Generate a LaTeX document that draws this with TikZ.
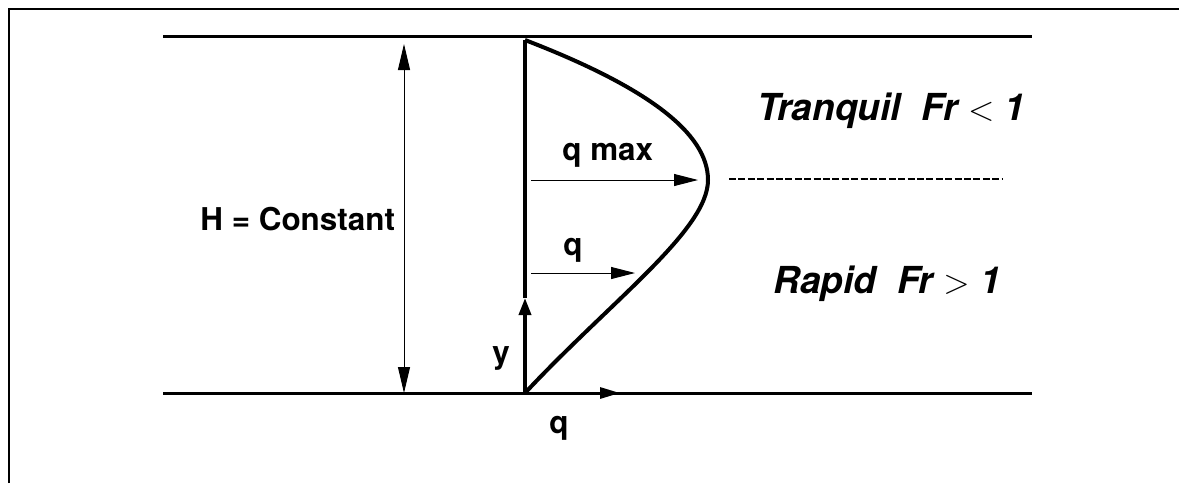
\documentclass[tikz,border=0pt]{standalone}
\usepackage{fontspec}
\setmainfont{TeX Gyre Heros}
\usetikzlibrary{arrows.meta}
\begin{document}
\begin{tikzpicture}[x=0.5pt,y=-0.5pt,
  lbl/.style={inner sep=0pt, anchor=base west, font=\fontsize{15.7}{18}\selectfont\bfseries},
  regime/.style={inner sep=0pt, anchor=base west, font=\fontsize{18.6}{22}\selectfont\bfseries\itshape},
  wall/.style={line width=1.5pt},
  axis/.style={line width=1.8pt},
  profile/.style={line width=2pt, line join=round},
  thinarrow/.style={line width=0.5pt,-{Triangle[length=12pt,width=6pt]}},
  dimarrow/.style={line width=0.5pt,{Triangle[length=13pt,width=6pt]}-{Triangle[length=13pt,width=6pt]}},
  framestyle/.style={line width=1pt},
  divider/.style={line width=1.3pt, dash pattern=on 3.5pt off 1.2pt},
]
\useasboundingbox (0,0) rectangle (1179,483);
% frame (cropped)
\draw[framestyle] (9,483) -- (9,9) -- (1179,9);

% coordinates
\coordinate (tl) at (163,36);
\coordinate (tr) at (1032,36);
\coordinate (bl) at (163,393);
\coordinate (br) at (1032,393);
\coordinate (O) at (525,393);
\coordinate (axtop) at (525,40);
\coordinate (ytip) at (525,298);
\coordinate (qbtip) at (620,393);
\coordinate (vertex) at (708,180);
\coordinate (qmaxs) at (531,180);
\coordinate (qmaxt) at (698,180);
\coordinate (qs) at (531,273);
\coordinate (qt) at (635,273);
\coordinate (Htop) at (404,44);
\coordinate (Hbot) at (404,393);
\coordinate (ds) at (729,179);
\coordinate (de) at (1003,179);

% channel walls
\draw[wall] (tl) -- (tr);
\draw[wall] (bl) -- (br);

% velocity profile axis
\draw[axis] (ytip) -- (axtop);
\draw[axis,-{Triangle[length=8.5pt,width=6pt]}] (O) -- (ytip);
\draw[wall,-{Triangle[length=10pt,width=5.5pt]}] (O) -- (qbtip);

% profile curve
\draw[profile] (axtop) .. controls (647,87) and (708,133) .. (vertex)
  .. controls (708,230) and (612,300) .. (O);

% arrows
\draw[thinarrow] (qmaxs) -- (qmaxt);
\draw[thinarrow] (qs) -- (qt);
\draw[dimarrow] (Htop) -- (Hbot);
\draw[divider] (ds) -- (de);

% labels
\node[lbl] (hlab) at (200,230) {H = Constant};
\node[lbl] (qmaxlab) at (562,160) {q max};
\node[lbl] (qlab) at (563,255) {q};
\node[lbl] (ylab) at (492,363) {y};
\node[lbl] (qblab) at (549,433) {q};
\node[regime] (tranq) at (757,120) {Tranquil\ \ Fr $<$ 1};
\node[regime] (rapid) at (773,293) {Rapid\ \ Fr $>$ 1};
\end{tikzpicture}
\end{document}
